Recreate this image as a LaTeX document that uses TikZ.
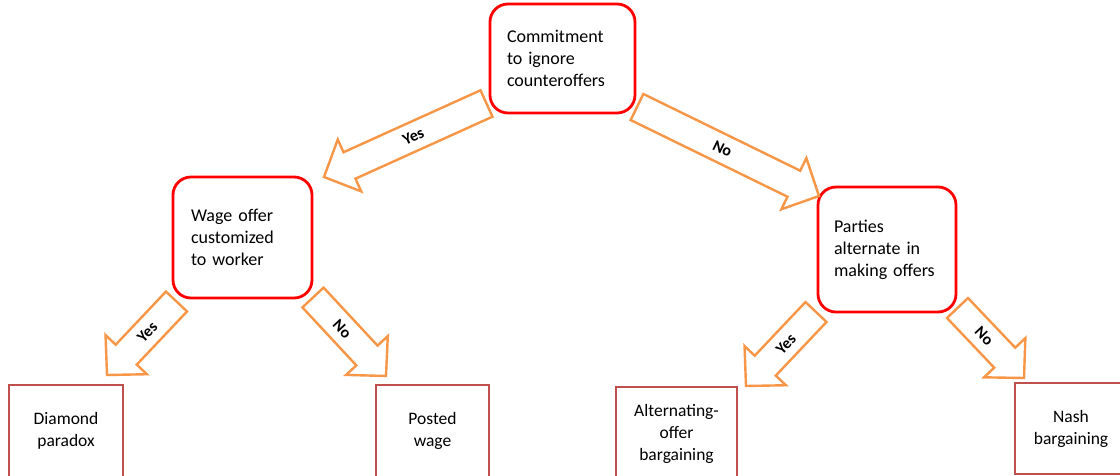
\documentclass[tikz,border=0pt]{standalone}
\usepackage{fontspec}
\setmainfont{Carlito}
\usetikzlibrary{calc}
\definecolor{boxred}{HTML}{FF0000}
\definecolor{leafred}{HTML}{C0504D}
\definecolor{arroworange}{HTML}{F79646}
\tikzset{
  decision/.style={draw=boxred, line width=2.8pt, rounded corners=18pt, fill=white,
    align=left, font=\fontsize{18}{22}\selectfont, inner ysep=0pt},
  leaf/.style={draw=leafred, line width=2.4pt, fill=white, align=center,
    font=\fontsize{17.5}{22}\selectfont, inner sep=0pt},
  flowarrow/.style={draw=arroworange, line width=2.4pt, fill=white, line join=miter},
  arrowlabel/.style={font=\bfseries\fontsize{16}{18}\selectfont, sloped, inner sep=0pt}
}
\newcommand{\blockarrow}[3]{%
  \coordinate (#3h) at ($(#2)!28pt!(#1)$);
  \draw[flowarrow] ($(#1)!14.5pt!90:(#2)$) -- ($(#3h)!14.5pt!90:(#2)$)
    -- ($(#3h)!28.5pt!90:(#2)$) -- (#2) -- ($(#3h)!28.5pt!-90:(#2)$)
    -- ($(#3h)!14.5pt!-90:(#2)$) -- ($(#1)!14.5pt!-90:(#2)$) -- cycle;
}
\begin{document}
\begin{tikzpicture}[x=1pt,y=-1pt]
\useasboundingbox (0,0) rectangle (1120,476);
\clip (0,0) rectangle (1120,476);

% decision nodes
\node[decision, minimum width=145pt, minimum height=109pt, text width=111pt, inner xsep=17pt]
  (commit) at (562.5,58.5) {Commitment\\to ignore\\counteroffers};
\node[decision, minimum width=139pt, minimum height=121pt, text width=103pt, inner xsep=18pt]
  (wage) at (242.5,237.5) {Wage offer\\customized\\to worker};
\node[decision, minimum width=138pt, minimum height=125pt, text width=106pt, inner xsep=16pt]
  (parties) at (887,249.5) {Parties\\alternate in\\making offers};

% leaf nodes
\node[leaf, minimum width=114pt, minimum height=92pt] (diamond) at (66,431) {Diamond\\paradox};
\node[leaf, minimum width=113pt, minimum height=92pt] (posted) at (432.5,431) {Posted\\wage};
\node[leaf, minimum width=121pt, minimum height=93pt] (altern) at (676.5,433.5) {Alternating-\\offer\\bargaining};
\node[leaf, minimum width=112pt, minimum height=91pt] (nash) at (1071,428.5) {Nash\\bargaining};

% arrow end points
\coordinate (t1) at (486.5,103.5); \coordinate (p1) at (324,177);
\coordinate (t2) at (637,107);     \coordinate (p2) at (819,196);
\coordinate (t3) at (176.5,301.5); \coordinate (p3) at (107,375);
\coordinate (t4) at (313,297.5);   \coordinate (p4) at (386,376);
\coordinate (t5) at (816,312);     \coordinate (p5) at (746,386);
\coordinate (t6) at (957.5,308);   \coordinate (p6) at (1024,378);

\blockarrow{t1}{p1}{a1}
\blockarrow{t2}{p2}{a2}
\blockarrow{t3}{p3}{a3}
\blockarrow{t4}{p4}{a4}
\blockarrow{t5}{p5}{a5}
\blockarrow{t6}{p6}{a6}

\path (t1) -- (p1) node[arrowlabel, pos=0.45] (l1) {Yes};
\path (t2) -- (p2) node[arrowlabel, pos=0.47] (l2) {No};
\path (t3) -- (p3) node[arrowlabel, pos=0.42] (l3) {Yes};
\path (t4) -- (p4) node[arrowlabel, pos=0.40] (l4) {No};
\path (t5) -- (p5) node[arrowlabel, pos=0.43] (l5) {Yes};
\path (t6) -- (p6) node[arrowlabel, pos=0.40] (l6) {No};
\end{tikzpicture}
\end{document}
